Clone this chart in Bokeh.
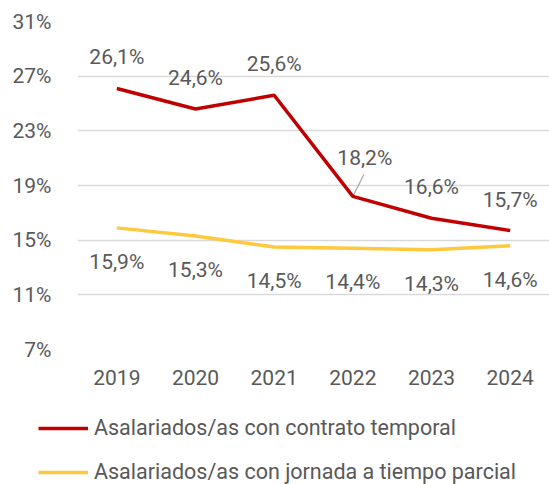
from bokeh.plotting import figure
from bokeh.models import (ColumnDataSource, FixedTicker, Range1d,
                          Legend, LegendItem, LabelSet)
from bokeh.embed import file_html
from bokeh.resources import INLINE
from bokeh.core.properties import value

years = ["2019", "2020", "2021", "2022", "2023", "2024"]
temporal = [26.1, 24.6, 25.6, 18.2, 16.6, 15.7]
parcial = [15.9, 15.3, 14.5, 14.4, 14.3, 14.6]
y_ticks = [7, 11, 15, 19, 23, 27, 31]
y_tick_labels = ["7%", "11%", "15%", "19%", "23%", "27%", "31%"]
series_names = ["Asalariados/as con contrato temporal",
                "Asalariados/as con jornada a tiempo parcial"]

RED = "#C00000"
YELLOW = "#FFC83D"
TXT = "#595959"
FONT = "Roboto"
FS = "21px"


def fmt(v):
    return f"{v:.1f}".replace(".", ",") + "%"


xs = [i + 0.5 for i in range(len(years))]

p = figure(width=549, height=395, x_range=Range1d(0, len(years)),
           y_range=Range1d(7, 31), output_backend="svg", toolbar_location=None,
           min_border_top=21, min_border_left=77, min_border_right=0,
           min_border_bottom=46)
p.outline_line_color = None
p.xgrid.grid_line_color = None
p.ygrid.grid_line_color = "#D9D9D9"
p.ygrid.grid_line_width = 1.5
p.yaxis.ticker = FixedTicker(ticks=y_ticks)
p.yaxis.major_label_overrides = {t: l for t, l in zip(y_ticks, y_tick_labels)}
p.xaxis.ticker = FixedTicker(ticks=xs)
p.xaxis.major_label_overrides = {x: y for x, y in zip(xs, years)}
for ax in (p.xaxis, p.yaxis):
    ax.axis_line_color = None
    ax.major_tick_line_color = None
    ax.minor_tick_line_color = None
    ax.major_label_text_font = FONT
    ax.major_label_text_font_size = FS
    ax.major_label_text_color = TXT
p.yaxis.major_label_standoff = 20
p.xaxis.major_label_standoff = 14

i22 = years.index("2022")
main_idx = [i for i in range(len(years)) if i != i22]

src_t = ColumnDataSource(dict(
    x=[xs[i] for i in main_idx], y=[temporal[i] for i in main_idx],
    t=[fmt(temporal[i]) for i in main_idx]))
src_t22 = ColumnDataSource(dict(x=[xs[i22]], y=[temporal[i22]],
                                t=[fmt(temporal[i22])]))
src_p = ColumnDataSource(dict(x=xs, y=parcial, t=[fmt(v) for v in parcial]))

# leader line for 2022 label
p.segment(x0=[xs[i22]], y0=[temporal[i22]],
          x1=[xs[i22] + 0.14], y1=[temporal[i22] + 1.6],
          line_color="#A6A6A6", line_width=1.2)

p.line(xs, temporal, line_color=RED, line_width=3.5)
p.line(xs, parcial, line_color=YELLOW, line_width=3.5)

common = dict(text_align="center", text_baseline="middle",
              text_font=value(FONT), text_font_size=FS, text_color=TXT)
p.add_layout(LabelSet(x="x", y="y", text="t", source=src_t, y_offset=31,
                      **common))
p.add_layout(LabelSet(x="x", y="y", text="t", source=src_t22, x_offset=12,
                      y_offset=38, **common))
p.add_layout(LabelSet(x="x", y="y", text="t", source=src_p, y_offset=-34,
                      **common))

# legend panel (separate root so its frame is not aligned with the chart)
q = figure(width=549, height=89, x_range=Range1d(0, 1), y_range=Range1d(0, 1),
           output_backend="svg", toolbar_location=None,
           x_axis_location=None, y_axis_location=None,
           min_border_top=0, min_border_left=0, min_border_right=0,
           min_border_bottom=0)
q.outline_line_color = None
q.grid.visible = False
l1 = q.line(xs, temporal, line_color=RED, line_width=3.5, visible=False)
l2 = q.line(xs, parcial, line_color=YELLOW, line_width=3.5, visible=False)
legend = Legend(items=[LegendItem(label=series_names[0], renderers=[l1]),
                       LegendItem(label=series_names[1], renderers=[l2])],
                location=(38, 0), orientation="vertical",
                label_text_font=FONT, label_text_font_size="21.5px",
                label_text_color=TXT, glyph_width=50, glyph_height=20,
                label_height=20, spacing=19, padding=0, margin=0,
                label_standoff=6, border_line_color=None,
                background_fill_alpha=0, inactive_fill_alpha=0)
q.add_layout(legend, "center")

open("out.html", "w").write(file_html([p, q], INLINE))
